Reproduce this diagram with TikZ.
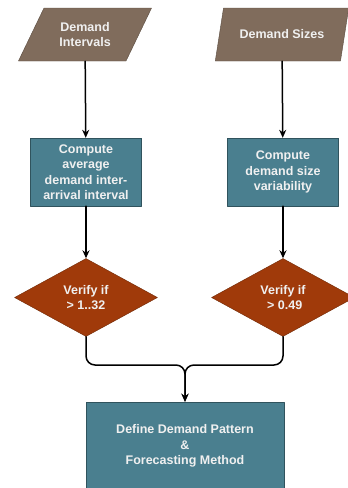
\documentclass[tikz,border=0pt]{standalone}
\usepackage{fontspec}
\setmainfont{Liberation Sans}
\usetikzlibrary{shapes.geometric,arrows.meta}
\definecolor{dataclr}{HTML}{806C5C}
\definecolor{procclr}{HTML}{4A7F8F}
\definecolor{testclr}{HTML}{A03A0A}
\begin{document}
\begin{tikzpicture}[x=1pt,y=-1pt,line cap=round,line join=round,>={Stealth[length=8pt,width=7pt]},
		font=\fontsize{12.5}{15.5}\selectfont\bfseries,
		txt/.style={text=white!94!black,align=center,inner sep=0pt},
		data/.style={txt,trapezium,trapezium left angle=57,trapezium right angle=123,trapezium stretches=true,
			fill=dataclr,draw=dataclr!70!black,minimum width=134pt,minimum height=53pt},
		proc/.style={txt,rectangle,fill=procclr,draw=procclr!65!black,minimum width=111pt,minimum height=68pt},
		test/.style={txt,diamond,fill=testclr,draw=testclr!70!black,minimum width=143pt,minimum height=78pt},
		flow/.style={->,line width=1.5pt}]
			\useasboundingbox (0,0) rectangle (348,488);
			\node[data] (di) at (85,34.5) {Demand\\Intervals};
			\node[data] (ds) at (282,34.5) {Demand Sizes};
			\node[proc] (ci) at (86,172) {Compute\\average\\demand inter-\\arrival interval};
			\node[proc] (cs) at (283,172) {Compute\\demand size\\variability};
			\node[test] (vi) at (86,297.5) {Verify if\\> 1..32};
			\node[test] (vs) at (283,297.5) {Verify if\\\ > 0.49};
			\node[proc,minimum width=198pt,minimum height=88pt] (out) at (185,446) {Define Demand Pattern\\\&\\Forecasting Method};
			\coordinate (join) at (185,365);
			\draw[flow] (di) -- (ci);
			\draw[flow] (ds) -- (cs);
			\draw[flow] (ci) -- (vi);
			\draw[flow] (cs) -- (vs);
			\draw[flow,rounded corners=9pt] (vi.south) |- (join) -- (out.north);
			\draw[flow,rounded corners=9pt] (vs.south) |- (join) -- (out.north);
		\end{tikzpicture}
\end{document}
